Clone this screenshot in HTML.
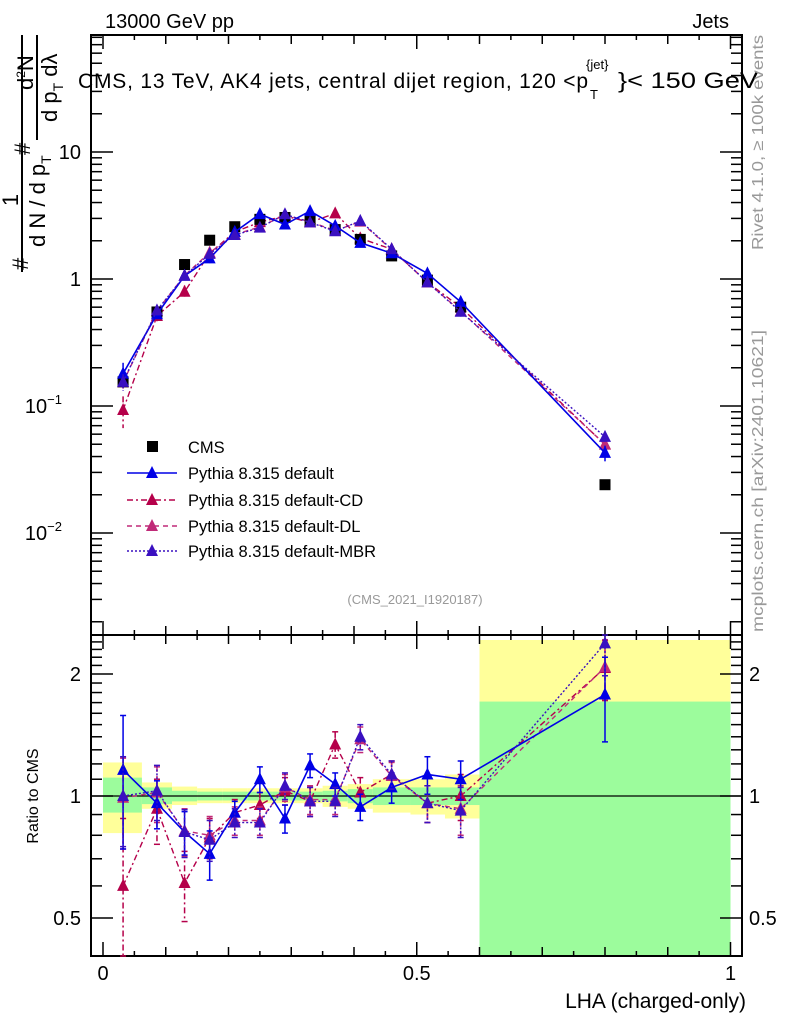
<!DOCTYPE html>
<html><head><meta charset="utf-8"><style>
body{margin:0;background:#fff;}
svg text{font-family:"Liberation Sans",sans-serif;}
</style></head><body>
<svg id="chart" width="786" height="1024" viewBox="0 0 786 1024" xmlns="http://www.w3.org/2000/svg">
<g id="bands"></g>
<g id="frames"></g>
<g id="series"></g>
<text x="105" y="28" font-size="20">13000 GeV pp</text>
<text x="729" y="28" font-size="20" text-anchor="end">Jets</text>
<g>
<text x="78" y="88" font-size="21" textLength="510" lengthAdjust="spacing">CMS, 13 TeV, AK4 jets, central dijet region, 120 &lt;p</text>
<text x="590" y="99" font-size="13">T</text>
<text x="586" y="69" font-size="13">{jet}</text>
<text x="618" y="88" font-size="22" textLength="140" lengthAdjust="spacingAndGlyphs">}&lt; 150 GeV</text>
</g>
<text x="415" y="604" font-size="13" fill="#999" text-anchor="middle">(CMS_2021_I1920187)</text>
<text transform="translate(763,250) rotate(-90)" font-size="16" fill="#999" textLength="215" lengthAdjust="spacingAndGlyphs">Rivet 4.1.0, ≥ 100k events</text>
<text transform="translate(763,632) rotate(-90)" font-size="16" fill="#999" textLength="302" lengthAdjust="spacingAndGlyphs">mcplots.cern.ch [arXiv:2401.10621]</text>
<text x="746" y="1008" font-size="21" text-anchor="end">LHA (charged-only)</text>
<text transform="translate(38,796) rotate(-90)" font-size="16" text-anchor="middle">Ratio to CMS</text>
<g font-size="22">
<text transform="translate(18,200) rotate(-90)" text-anchor="middle">1</text>
<line x1="22" y1="35" x2="22" y2="272" stroke="#000" stroke-width="2"/>
<text transform="translate(28,270) rotate(-90)">#</text>
<text transform="translate(45,247) rotate(-90)">d N / d p<tspan font-size="14" dy="6">T</tspan></text>
<text transform="translate(30,155) rotate(-90)">#</text>
<line x1="37" y1="35" x2="37" y2="140" stroke="#000" stroke-width="2"/>
<text transform="translate(57,122) rotate(-90)">d p<tspan font-size="14" dy="6">T</tspan><tspan dy="-6"> dλ</tspan></text>
<text transform="translate(33,90) rotate(-90)">d<tspan font-size="12" dy="-8">2</tspan><tspan dy="8">N</tspan></text>
</g>
<g id="legend"></g>
</svg>
<script>
const lha = [0.032,0.086,0.13,0.17,0.21,0.25,0.29,0.33,0.37,0.41,0.46,0.517,0.57,0.80];
const binEdges = [0,0.062,0.11,0.15,0.19,0.23,0.27,0.31,0.35,0.39,0.43,0.49,0.545,0.6,1.0];
const cmsVals = [0.155,0.55,1.30,2.02,2.58,2.95,3.05,2.88,2.45,2.05,1.52,0.98,0.60,0.024];
const totUp = [0.21,0.08,0.055,0.045,0.045,0.045,0.045,0.045,0.06,0.07,0.10,0.10,0.13,1.6];
const totDn = [0.19,0.07,0.05,0.04,0.04,0.04,0.04,0.04,0.06,0.07,0.09,0.10,0.12,1.0];
const statUp = [0.11,0.05,0.03,0.025,0.025,0.025,0.025,0.025,0.03,0.04,0.05,0.05,0.05,0.71];
const statDn = [0.09,0.045,0.03,0.025,0.025,0.025,0.025,0.025,0.03,0.04,0.05,0.05,0.05,1.0];
const ratioDefault = [1.16,0.96,0.815,0.72,0.91,1.10,0.88,1.19,1.07,0.94,1.05,1.13,1.10,1.78];
const ratioCD = [0.60,0.93,0.61,0.79,0.91,0.95,1.03,0.97,1.34,1.02,1.13,0.96,1.0,2.07];
const ratioDL = [0.99,1.02,0.82,0.80,0.87,0.87,1.05,0.98,0.98,1.38,1.12,0.96,0.93,2.08];
const ratioMBR = [1.0,1.03,0.815,0.78,0.86,0.86,1.06,0.97,0.97,1.40,1.13,0.96,0.92,2.38];
const errDefault = [0.42,0.13,0.10,0.10,0.06,0.08,0.07,0.08,0.07,0.07,0.09,0.12,0.12,0.42];
const errCD = [0.28,0.17,0.12,0.09,0.07,0.07,0.08,0.08,0.10,0.09,0.09,0.10,0.13,0.35];
const errDL = [0.25,0.16,0.11,0.09,0.07,0.07,0.08,0.08,0.08,0.10,0.09,0.10,0.13,0.35];
const errMBR = [0.25,0.16,0.11,0.09,0.07,0.07,0.08,0.08,0.08,0.10,0.09,0.10,0.13,0.40];
const mainTicks = [10,1,0.1,0.01];
const ratioTicks = [2,1,0.5];
const xTicks = [0,0.5,1];

const NS='http://www.w3.org/2000/svg';
const L=91,R=742,T=35,MB=635,RB=956;
const X=v=>103+v*627.5;
const Y=v=>279-127*Math.log10(v);
const YR=v=>796-122*Math.log2(v);
const clamp=(y,a,b)=>Math.max(a,Math.min(b,y));
function mk(p,tag,at){const e=document.createElementNS(NS,tag);for(const k in at)e.setAttribute(k,at[k]);p.appendChild(e);return e;}
const bands=document.getElementById('bands'),fr=document.getElementById('frames'),se=document.getElementById('series'),lg=document.getElementById('legend');

for(let i=0;i<lha.length;i++){
  const x0=X(binEdges[i]),x1=X(binEdges[i+1]);
  let y0=clamp(YR(1+totUp[i]),MB,RB),y1=clamp(YR(Math.max(1-totDn[i],0.01)),MB,RB);
  y0=Math.max(y0,640);
  const b=mk(bands,'rect',{x:x0,y:y0,width:x1-x0,height:y1-y0,fill:'#ffff9a'});
  
  
  let g0=clamp(YR(1+statUp[i]),MB,RB),g1=clamp(YR(Math.max(1-statDn[i],0.01)),MB,RB);
  const g=mk(bands,'rect',{x:x0,y:g0,width:x1-x0,height:g1-g0,fill:'#9cfc9c'});
  
  
}
mk(fr,'rect',{x:L,y:T,width:R-L,height:MB-T,fill:'none',stroke:'#000','stroke-width':2});
mk(fr,'rect',{x:L,y:MB,width:R-L,height:RB-MB,fill:'none',stroke:'#000','stroke-width':2});
mk(fr,'line',{x1:L,y1:YR(1),x2:R,y2:YR(1),stroke:'#000','stroke-width':1.3});
for(let k=0;k<=20;k++){const v=k*0.05,x=X(v);const len=k%10==0?14:(k%2==0?9:5);
  for(const [y,d] of [[T,1],[MB,-1],[MB,1],[RB,-1]]) mk(fr,'line',{x1:x,y1:y,x2:x,y2:y+d*len,stroke:'#000','stroke-width':1.5});}
xTicks.forEach(v=>{const t=mk(fr,'text',{x:X(v),y:980,'font-size':20,'text-anchor':'middle'});t.textContent=String(v);
  });
for(let e=-3;e<=1;e++)for(let m=1;m<=9;m++){const v=m*Math.pow(10,e),y=Y(v);if(y<T||y>MB)continue;const len=m==1?22:11;
  mk(fr,'line',{x1:L,y1:y,x2:L+len,y2:y,stroke:'#000','stroke-width':1.5});mk(fr,'line',{x1:R,y1:y,x2:R-len,y2:y,stroke:'#000','stroke-width':1.5});}
const mainLab={10:'10',1:'1',0.1:'10<tspan font-size="13" dy="-9">−1</tspan>',0.01:'10<tspan font-size="13" dy="-9">−2</tspan>'};
mainTicks.forEach(v=>{const t=mk(fr,'text',{x:v>=1?81:62,y:Y(v)+7,'font-size':20,'text-anchor':'end'});t.innerHTML=mainLab[v];
  });
for(let v=0.4;v<=2.51;v+=0.1){const y=YR(v);if(y<MB||y>RB)continue;const maj=Math.abs(v-0.5)<1e-6||Math.abs(v-1)<1e-6||Math.abs(v-2)<1e-6;const len=maj?22:11;
  mk(fr,'line',{x1:L,y1:y,x2:L+len,y2:y,stroke:'#000','stroke-width':1.5});mk(fr,'line',{x1:R,y1:y,x2:R-len,y2:y,stroke:'#000','stroke-width':1.5});}
ratioTicks.forEach(v=>{for(const [x,a] of [[81,'end'],[749,'start']]){const t=mk(fr,'text',{x:x,y:YR(v)+7,'font-size':20,'text-anchor':a});t.textContent=String(v);
  }});

function tri(p,x,y,c){return mk(p,'polygon',{points:`${x-6},${y+5} ${x+6},${y+5} ${x},${y-7}`,fill:c});}
const defs=[
 {name:'default',r:ratioDefault,e:errDefault,c:'#0000e6',dash:'',w:1.6},
 {name:'default-CD',r:ratioCD,e:errCD,c:'#b5004a',dash:'6,3,2,3',w:1.4},
 {name:'default-DL',r:ratioDL,e:errDL,c:'#c02a78',dash:'5,4',w:1.4},
 {name:'default-MBR',r:ratioMBR,e:errMBR,c:'#3a10c0',dash:'2,2',w:1.4}];
[defs[1],defs[2],defs[0],defs[3]].forEach(s=>{
  const g=mk(se,'g',{});
  
  
  const mp=lha.map((v,i)=>X(v)+','+Y(cmsVals[i]*s.r[i])).join(' ');
  mk(g,'polyline',{points:mp,fill:'none',stroke:s.c,'stroke-width':s.w,'stroke-dasharray':s.dash});
  const rp=lha.map((v,i)=>X(v)+','+clamp(YR(s.r[i]),MB,RB)).join(' ');
  mk(g,'polyline',{points:rp,fill:'none',stroke:s.c,'stroke-width':s.w,'stroke-dasharray':s.dash});
  lha.forEach((v,i)=>{const x=X(v);
    const val=cmsVals[i]*s.r[i],re=s.e[i]/s.r[i]*0.6;
    const a=Y(val*(1+re)),b=Y(Math.max(val*(1-re),1e-4));
    mk(g,'line',{x1:x,y1:a,x2:x,y2:b,stroke:s.c,'stroke-width':1.5,'stroke-dasharray':s.dash});
    tri(g,x,Y(val),s.c);
    const ra=clamp(YR(s.r[i]+s.e[i]),MB,RB),rb=clamp(YR(Math.max(s.r[i]-s.e[i],0.05)),MB,RB);
    mk(g,'line',{x1:x,y1:ra,x2:x,y2:rb,stroke:s.c,'stroke-width':1.5,'stroke-dasharray':s.dash});
    mk(g,'line',{x1:x-3,y1:ra,x2:x+3,y2:ra,stroke:s.c,'stroke-width':1.5});
    mk(g,'line',{x1:x-3,y1:rb,x2:x+3,y2:rb,stroke:s.c,'stroke-width':1.5});
    const t=tri(g,x,clamp(YR(s.r[i]),MB,RB),s.c);
    
    
  });
});
const cg=mk(se,'g',{});


lha.forEach((v,i)=>{const r=mk(cg,'rect',{x:X(v)-5.5,y:Y(cmsVals[i])-5.5,width:11,height:11,fill:'#000'});
  
  });
se.appendChild(se.children[2]);se.appendChild(se.children[2]);
const rows=[{t:'CMS'},...defs.map(d=>({t:'Pythia 8.315 '+d.name,d}))];
const ly=[447,473,500,526,551];
rows.forEach((r,k)=>{const g=mk(lg,'g',{});
  
  
  const y=ly[k];
  if(!r.d){mk(g,'rect',{x:147,y:y-6,width:11,height:11,fill:'#000'});}
  else{mk(g,'line',{x1:127,y1:y,x2:177,y2:y,stroke:r.d.c,'stroke-width':1.5,'stroke-dasharray':r.d.dash});tri(g,152,y,r.d.c);}
  const t=mk(g,'text',{x:188,y:y+6,'font-size':16.5});t.textContent=r.t;});
</script>
</body></html>
